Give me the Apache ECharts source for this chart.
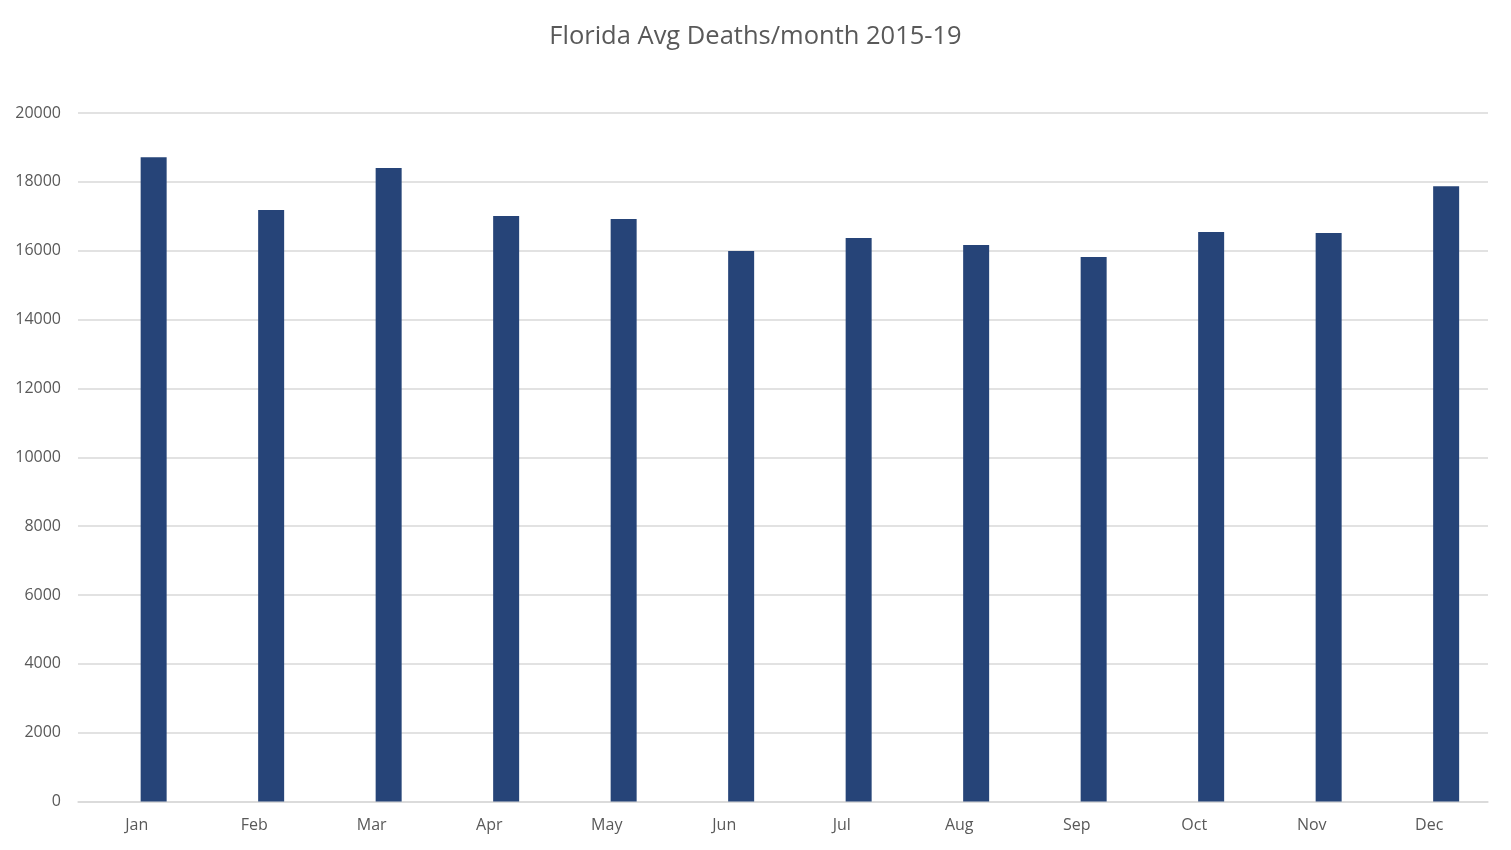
<!DOCTYPE html>
<html>
<head>
<meta charset="utf-8">
<script src="https://cdn.jsdelivr.net/npm/echarts@6/dist/echarts.min.js"></script>
<style>
html,body{margin:0;padding:0;background:#fff;}
#chart{width:1511px;height:850px;}
</style>
</head>
<body>
<div id="chart"></div>
<script>
const categories = ['Jan','Feb','Mar','Apr','May','Jun','Jul','Aug','Sep','Oct','Nov','Dec'];
const deaths = [18718, 17180, 18400, 17005, 16918, 15988, 16366, 16163, 15814, 16541, 16512, 17874];
const emptySlot = [null, null, null, null, null, null, null, null, null, null, null, null];
const titleText = 'Florida Avg Deaths/month 2015-19';

const chart = echarts.init(document.getElementById('chart'));
chart.setOption({
  animation: false,
  backgroundColor: '#ffffff',
  title: {
    text: titleText,
    left: 'center',
    top: 19,
    textStyle: { fontFamily: 'Open Sans', fontSize: 25.5, fontWeight: 'normal', color: '#595959' }
  },
  grid: { left: 78, right: 23, top: 113, bottom: 48.5, containLabel: false },
  xAxis: {
    type: 'category',
    data: categories,
    axisLine: { show: true, lineStyle: { color: '#d9d9d9', width: 1.5 } },
    axisTick: { show: false },
    axisLabel: { color: '#595959', fontSize: 16, fontFamily: 'Open Sans', margin: 16 }
  },
  yAxis: {
    type: 'value',
    min: 0,
    max: 20000,
    interval: 2000,
    axisLine: { show: false },
    axisTick: { show: false },
    splitLine: { lineStyle: { color: '#d9d9d9', width: 1.5 } },
    axisLabel: { color: '#595959', fontSize: 16, fontFamily: 'Open Sans', margin: 17, formatter: v => String(v) }
  },
  series: [{
    type: 'bar',
    data: emptySlot,
    barWidth: 26,
    barGap: '30%',
    itemStyle: { color: '#ffffff' }
  }, {
    type: 'bar',
    data: deaths,
    barWidth: 26,
    barGap: '30%',
    itemStyle: { color: '#264478' }
  }]
});
</script>
</body>
</html>
